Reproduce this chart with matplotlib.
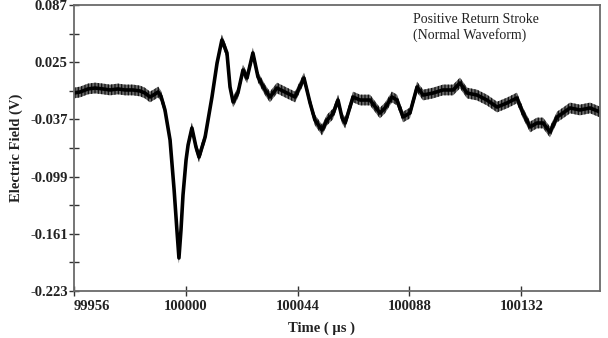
import matplotlib
matplotlib.use("Agg")
import matplotlib.pyplot as plt
from matplotlib.ticker import FixedLocator

# Data
time_us = [99956.0, 99958.4, 99961.5, 99964.3, 99967.4, 99970.2, 99973.3, 99976.1,
           99979.2, 99982.0, 99983.9, 99985.9, 99987.9, 99989.1, 99990.2, 99991.8,
           99993.8, 99995.4, 99996.5, 99997.3, 99998.1, 99998.9, 100000.1, 100000.9,
           100002.4, 100004.0, 100005.2, 100007.6, 100010.3, 100012.3, 100014.2,
           100016.2, 100017.4, 100018.6, 100020.5, 100022.5, 100024.1, 100026.4,
           100028.4, 100031.2, 100033.1, 100035.9, 100039.8, 100043.0, 100046.5,
           100048.9, 100050.8, 100053.6, 100055.6, 100057.9, 100059.9, 100061.5,
           100062.7, 100065.8, 100068.6, 100072.5, 100076.4, 100078.4, 100081.1,
           100083.1, 100085.5, 100088.2, 100091.0, 100093.4, 100097.3, 100101.2,
           100105.2, 100107.9, 100110.7, 100114.6, 100118.5, 100122.5, 100126.4,
           100130.3, 100132.7, 100135.5, 100138.2, 100140.6, 100143.3, 100146.1,
           100148.4, 100151.2, 100155.1, 100159.1, 100163.0]
field_v = [-0.0084, -0.0073, -0.0040, -0.0030, -0.0040, -0.0051, -0.0040, -0.0051,
           -0.0051, -0.0062, -0.0084, -0.0127, -0.0095, -0.0073, -0.0116, -0.0268,
           -0.0593, -0.1135, -0.1569, -0.1872, -0.1569, -0.1189, -0.0810, -0.0647,
           -0.0463, -0.0669, -0.0778, -0.0561, -0.0127, 0.0241, 0.0491,
           0.0350, -0.0019, -0.0181, -0.0084, 0.0165, 0.0079, 0.0350,
           0.0090, -0.0051, -0.0127, -0.0030, -0.0084, -0.0127, 0.0079,
           -0.0192, -0.0376, -0.0485, -0.0376, -0.0311, -0.0160, -0.0355,
           -0.0409, -0.0127, -0.0160, -0.0160, -0.0301, -0.0246, -0.0127,
           -0.0160, -0.0344, -0.0301, -0.0019, -0.0106, -0.0084, -0.0051,
           -0.0051, 0.0025, -0.0084, -0.0106, -0.0160, -0.0236, -0.0192,
           -0.0138, -0.0301, -0.0452, -0.0409, -0.0409, -0.0507, -0.0344,
           -0.0301, -0.0246, -0.0268, -0.0246, -0.0290]

x_ticks = [99956, 100000, 100044, 100088, 100132]
y_ticks = [0.087, 0.025, -0.037, -0.099, -0.161, -0.223]
y_minor = [0.056, -0.006, -0.068, -0.130, -0.192]
title_lines = ["Positive Return Stroke", "(Normal Waveform)"]

serif = ["Liberation Serif", "DejaVu Serif"]
plt.rcParams["hatch.linewidth"] = 0.9
plt.rcParams["hatch.color"] = "#111111"

fig = plt.figure(figsize=(6.08, 3.38), dpi=100)
ax = fig.add_axes([74/608, 1-291/338, 526/608, 286/338])

band = 0.0058
lo = [v - band for v in field_v]
hi = [v + band for v in field_v]
ax.fill_between(time_us, lo, hi, facecolor="#6a6a6a", edgecolor="#111111",
                hatch="|||||", linewidth=0)
ax.plot(time_us, field_v, color="black", linewidth=2.6, solid_joinstyle="round")

ax.set_xlim(99956, 100163)
ax.set_ylim(-0.223, 0.087)
ax.xaxis.set_major_locator(FixedLocator(x_ticks))
ax.yaxis.set_major_locator(FixedLocator(y_ticks))
ax.yaxis.set_minor_locator(FixedLocator(y_minor))
ax.set_xticklabels([str(t) for t in x_ticks])
ax.set_yticklabels([f"{t:.3f}" for t in y_ticks])

for s in ax.spines.values():
    s.set_color("#6a6a6a")
    s.set_linewidth(1.3)

ax.tick_params(axis="both", which="both", direction="inout", color="#333333", width=1.0)
ax.tick_params(axis="x", which="major", length=7, pad=3)
ax.tick_params(axis="y", which="major", length=7, pad=1)
ax.tick_params(axis="y", which="minor", length=7)
for lab in ax.get_xticklabels() + ax.get_yticklabels():
    lab.set_fontfamily(serif)
    lab.set_fontweight("bold")
    lab.set_fontsize(10.5)
    lab.set_color("#222222")
ax.get_xticklabels()[0].set_horizontalalignment("left")

ax.set_xlabel("Time ( \u00b5s )", fontfamily=serif, fontweight="bold", fontsize=10.5, color="#222222")
ax.xaxis.set_label_coords(0.47, -0.108)
ax.set_ylabel("Electric Field (V)", fontfamily=serif, fontweight="bold", fontsize=10.5, color="#222222")
ax.yaxis.set_label_coords(-0.097, 0.5)

ax.text(0.6445, 0.972, "\n".join(title_lines), transform=ax.transAxes, ha="left", va="top",
        fontfamily=serif, fontsize=10, color="#222222", linespacing=1.2)

fig.savefig("out.png", dpi=100)
